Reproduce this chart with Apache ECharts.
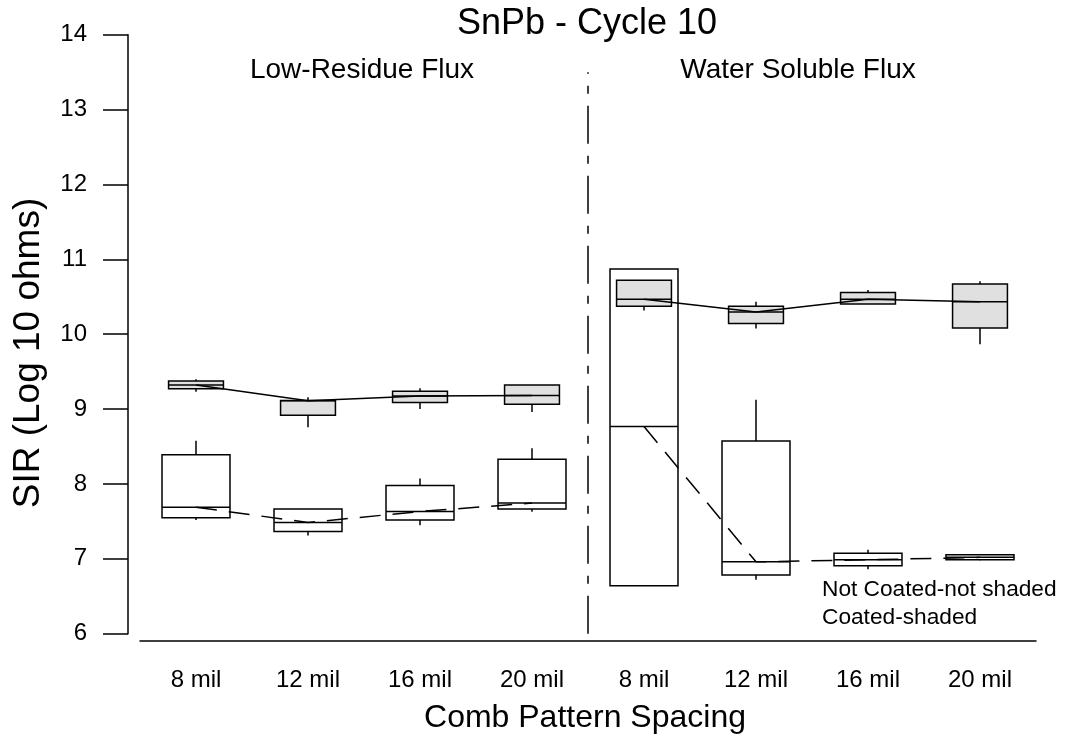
<!DOCTYPE html>
<html>
<head>
<meta charset="utf-8">
<script src="https://cdn.jsdelivr.net/npm/echarts@6/dist/echarts.min.js"></script>
<style>
html,body{margin:0;padding:0;background:#fff;}
#c{width:1065px;height:749px;}
</style>
</head>
<body>
<div id="c"></div>
<script>
// ---- data ----
var categories = ['8 mil', '12 mil', '16 mil', '20 mil', '8 mil', '12 mil', '16 mil', '20 mil'];
var groupLabels = ['Low-Residue Flux', 'Water Soluble Flux'];
var yTicks = [6, 7, 8, 9, 10, 11, 12, 13, 14];
// [min, Q1, median, Q3, max]
var notCoated = [
  [7.52, 7.547, 7.69, 8.389, 8.576],
  [7.31, 7.364, 7.485, 7.667, 7.667],
  [7.45, 7.517, 7.632, 7.979, 8.072],
  [7.628, 7.664, 7.744, 8.331, 8.478],
  [6.64, 6.64, 8.766, 10.872, 10.872],
  [6.72, 6.785, 6.96, 8.572, 9.123],
  [6.862, 6.907, 6.987, 7.076, 7.12],
  [6.98, 6.987, 7.02, 7.053, 7.06]
];
var coated = [
  [9.23, 9.27, 9.32, 9.376, 9.40],
  [8.758, 8.918, 9.11, 9.113, 9.159],
  [9.0, 9.087, 9.176, 9.239, 9.279],
  [8.96, 9.065, 9.18, 9.323, 9.323],
  [10.315, 10.374, 10.467, 10.72, 10.72],
  [10.075, 10.143, 10.298, 10.374, 10.435],
  [10.405, 10.405, 10.467, 10.556, 10.59],
  [9.867, 10.084, 10.432, 10.672, 10.707]
];
var separatorAt = 3.5;
var separatorRange = [6, 13.5];

// ---- helpers ----
var FONT = '"Liberation Sans", Arial, sans-serif';
function boxData(arr) {
  return arr.map(function (d, i) { return [i, d[0], d[1], d[2], d[3], d[4]]; });
}
function medians(arr, group) {
  return arr.map(function (d, i) {
    return (group === 0 ? i < 4 : i >= 4) ? d[2] : '-';
  });
}
function makeRender(frac, fill) {
  return function (params, api) {
    var i = api.value(0);
    var bw = api.size([1, 0])[0] * frac;
    var pMin = api.coord([i, api.value(1)]);
    var pQ1 = api.coord([i, api.value(2)]);
    var pMed = api.coord([i, api.value(3)]);
    var pQ3 = api.coord([i, api.value(4)]);
    var pMax = api.coord([i, api.value(5)]);
    var cx = pMed[0];
    var ls = { stroke: '#000', lineWidth: 1.5, fill: null };
    return {
      type: 'group',
      children: [
        { type: 'line', shape: { x1: cx, y1: pMin[1], x2: cx, y2: pQ1[1] }, style: ls },
        { type: 'line', shape: { x1: cx, y1: pQ3[1], x2: cx, y2: pMax[1] }, style: ls },
        { type: 'rect', shape: { x: cx - bw / 2, y: pQ3[1], width: bw, height: pQ1[1] - pQ3[1] },
          style: { fill: fill, stroke: '#000', lineWidth: 1.5 } },
        { type: 'line', shape: { x1: cx - bw / 2, y1: pMed[1], x2: cx + bw / 2, y2: pMed[1] }, style: ls }
      ]
    };
  };
}

var chart = echarts.init(document.getElementById('c'), null, { renderer: 'canvas' });
var option = {
  animation: false,
  backgroundColor: '#fff',
  textStyle: { fontFamily: FONT },
  grid: { left: 140, right: 29, top: 34.7, bottom: 115.3, containLabel: false },
  xAxis: [
    {
      type: 'category', data: categories, boundaryGap: true, offset: 7,
      axisLine: { onZero: false, lineStyle: { color: '#000', width: 1.5 } },
      axisTick: { alignWithLabel: true, length: 15, lineStyle: { color: '#000', width: 1.5 } },
      axisLabel: { color: '#000', fontSize: 24, fontFamily: FONT, margin: 28, interval: 0 },
      splitLine: { show: false }
    },
    { type: 'value', min: -0.5, max: 7.5, show: false }
  ],
  yAxis: {
    type: 'value', min: yTicks[0], max: yTicks[yTicks.length - 1], interval: 1, offset: 12,
    position: 'left',
    axisLine: { show: true, onZero: false, lineStyle: { color: '#000', width: 1.5 } },
    axisTick: { show: true, length: 25, lineStyle: { color: '#000', width: 1.5 } },
    axisLabel: { color: '#000', fontSize: 24, fontFamily: FONT, margin: 41 },
    splitLine: { show: false }
  },
  series: [
    {
      type: 'custom', name: 'Not Coated', xAxisIndex: 0, yAxisIndex: 0,
      renderItem: makeRender(0.607, '#ffffff'),
      encode: { x: 0, y: [1, 2, 3, 4, 5] },
      data: boxData(notCoated), z: 2
    },
    {
      type: 'custom', name: 'Coated', xAxisIndex: 0, yAxisIndex: 0,
      renderItem: makeRender(0.49, '#e0e0e0'),
      encode: { x: 0, y: [1, 2, 3, 4, 5] },
      data: boxData(coated), z: 3
    },
    {
      type: 'line', xAxisIndex: 0, data: medians(notCoated, 0), symbol: 'none', z: 4,
      lineStyle: { color: '#000', width: 1.5, type: [21, 12] }, connectNulls: false
    },
    {
      type: 'line', xAxisIndex: 0, data: medians(notCoated, 1), symbol: 'none', z: 4,
      lineStyle: { color: '#000', width: 1.5, type: [21, 12] }, connectNulls: false
    },
    {
      type: 'line', xAxisIndex: 0, data: medians(coated, 0), symbol: 'none', z: 4,
      lineStyle: { color: '#000', width: 1.5, type: 'solid' }, connectNulls: false
    },
    {
      type: 'line', xAxisIndex: 0, data: medians(coated, 1), symbol: 'none', z: 4,
      lineStyle: { color: '#000', width: 1.5, type: 'solid' }, connectNulls: false
    },
    {
      type: 'line', xAxisIndex: 1, symbol: 'none', z: 4,
      data: [[separatorAt, separatorRange[0]], [separatorAt, separatorRange[1]]],
      lineStyle: { color: '#000', width: 1.5, type: [38, 12, 8, 12] }
    }
  ],
  graphic: [
    { type: 'text', x: 587, y: 24, style: { text: 'SnPb - Cycle 10', font: '36px ' + FONT, fill: '#000', textAlign: 'center', textVerticalAlign: 'middle' } },
    { type: 'text', x: 362, y: 70.5, style: { text: groupLabels[0], font: '28px ' + FONT, fill: '#000', textAlign: 'center', textVerticalAlign: 'middle' } },
    { type: 'text', x: 798, y: 70.5, style: { text: groupLabels[1], font: '28px ' + FONT, fill: '#000', textAlign: 'center', textVerticalAlign: 'middle' } },
    { type: 'text', x: 822, y: 590, style: { text: 'Not Coated-not shaded', font: '22.7px ' + FONT, fill: '#000', textAlign: 'left', textVerticalAlign: 'middle' } },
    { type: 'text', x: 822, y: 618, style: { text: 'Coated-shaded', font: '22.7px ' + FONT, fill: '#000', textAlign: 'left', textVerticalAlign: 'middle' } },
    { type: 'text', x: 585, y: 718, style: { text: 'Comb Pattern Spacing', font: '32px ' + FONT, fill: '#000', textAlign: 'center', textVerticalAlign: 'middle' } },
    { type: 'text', x: 29, y: 353, rotation: Math.PI / 2, style: { text: 'SIR (Log 10 ohms)', font: '37px ' + FONT, fill: '#000', textAlign: 'center', textVerticalAlign: 'middle' } }
  ]
};
chart.setOption(option);
</script>
</body>
</html>
